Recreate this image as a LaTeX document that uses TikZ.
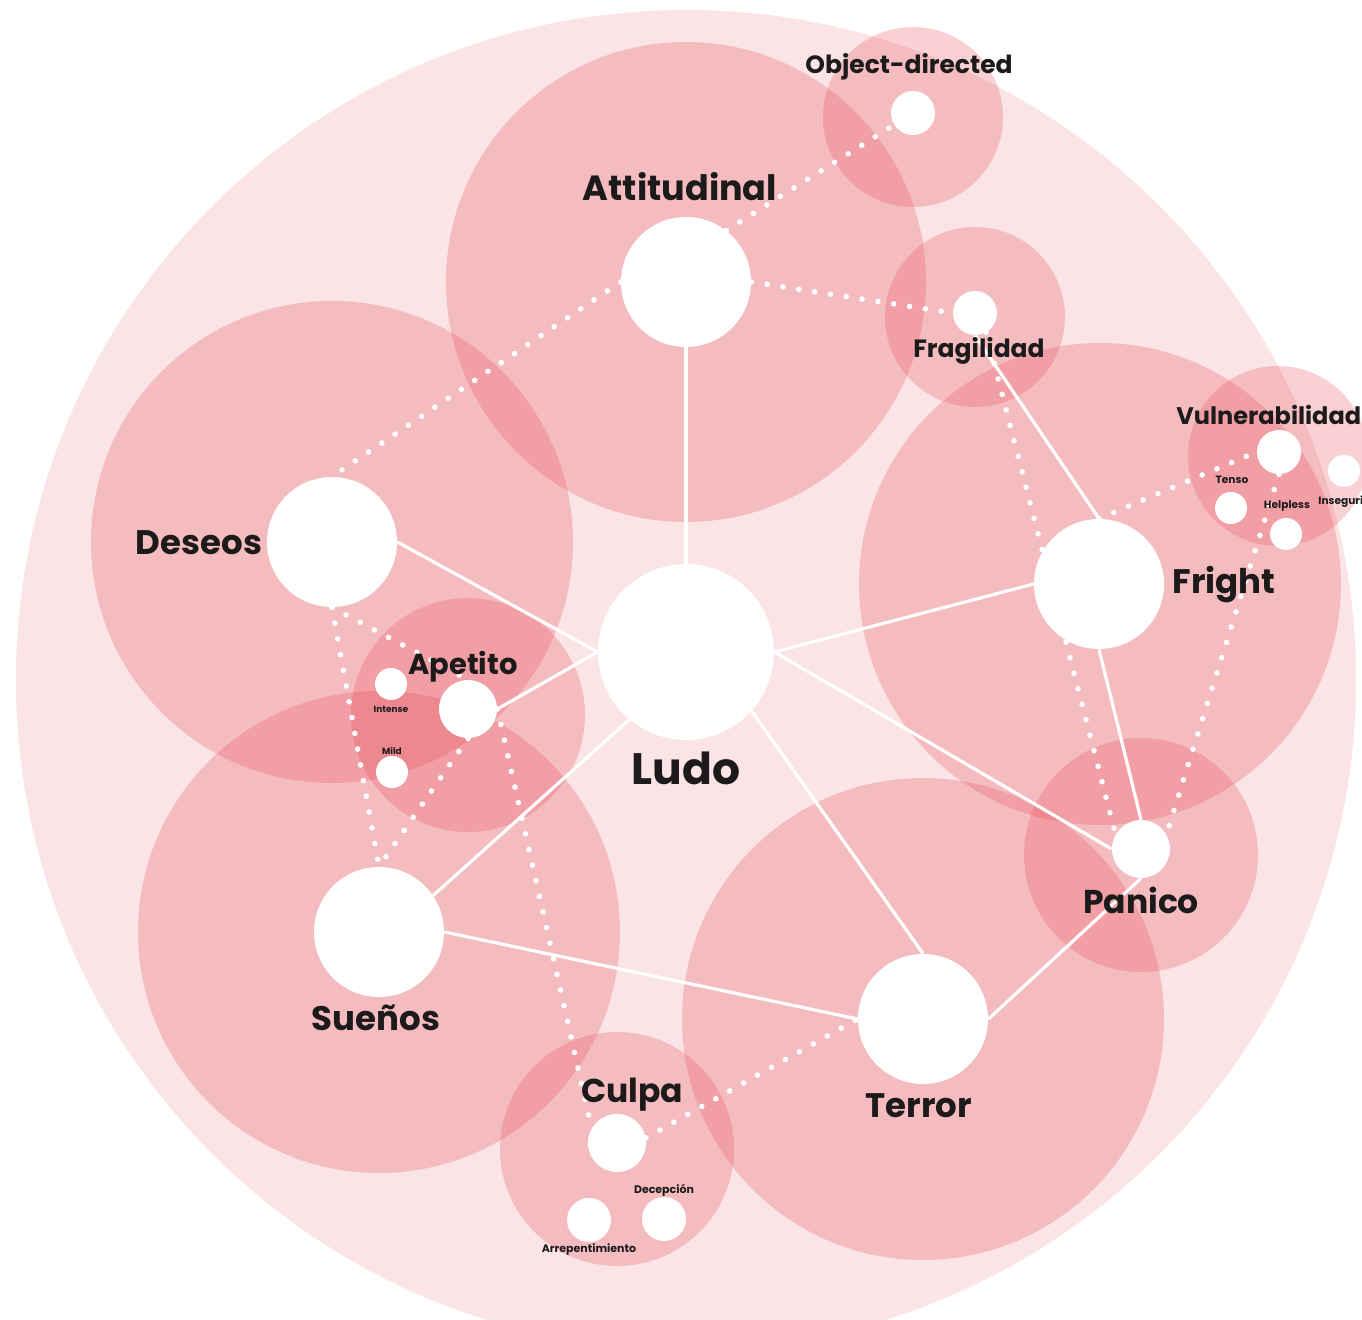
\documentclass[tikz,border=0pt]{standalone}
\usepackage{fontspec}
\setmainfont{Poppins}
\definecolor{clr}{RGB}{232,72,82}
\definecolor{bgpink}{RGB}{250,228,229}
\definecolor{ink}{RGB}{28,26,27}
\pgfdeclarelayer{bg}
\pgfdeclarelayer{lines}
\pgfsetlayers{bg,lines,main}
\tikzset{
  wc/.style={circle, fill=white, inner sep=0pt, minimum size=#1*1pt},
  cl/.style={circle, fill=clr, fill opacity=0.25, draw=none, inner sep=0pt, minimum size=#1*1pt},
  sl/.style={draw=white, line width=1.6pt},
  dl/.style={draw=white, line width=2.8pt, line cap=round, dash pattern=on 0pt off 8pt},
  lab/.style={text=ink, font=\bfseries\fontsize{#1}{#1}\selectfont, inner sep=0pt},
}
\begin{document}
\begin{tikzpicture}[x=0.5pt, y=-0.5pt]
\useasboundingbox (0,0) rectangle (1362,1320);
\begin{pgfonlayer}{bg}
  \node[circle, fill=bgpink, inner sep=0pt, minimum size=670pt] (bgc) at (686,680) {};
  \node[cl=240] (cAtt) at (686,282) {};
  \node[cl=90]  (cObj) at (913,117) {};
  \node[cl=90]  (cFrag) at (975,317) {};
  \node[cl=241] (cFri) at (1100,584) {};
  \node[cl=90]  (cVul) at (1278,456) {};
  \node[cl=117] (cPan) at (1141,855) {};
  \node[cl=241] (cTer) at (923,1019) {};
  \node[cl=117] (cCul) at (617,1149) {};
  \node[cl=241] (cSue) at (379,932) {};
  \node[cl=241] (cDes) at (332,542) {};
  \node[cl=117] (cApe) at (468,715) {};
\end{pgfonlayer}
% white circles (value = radius in px)
\node[wc=88] (ludo) at (686,652) {};
\node[wc=65] (att) at (686,282) {};
\node[wc=65] (des) at (332,542) {};
\node[wc=65] (sue) at (379,932) {};
\node[wc=65] (ter) at (923,1019) {};
\node[wc=65] (fri) at (1099,584) {};
\node[wc=29] (pan) at (1141,849) {};
\node[wc=22] (frag) at (975,313) {};
\node[wc=22] (obj) at (913,113) {};
\node[wc=29] (ape) at (468,709) {};
\node[wc=16] (int) at (391,684) {};
\node[wc=16] (mild) at (392,772) {};
\node[wc=29] (cul) at (617,1143) {};
\node[wc=22] (arr) at (589,1220) {};
\node[wc=22] (dec) at (664,1219) {};
\node[wc=22] (vul) at (1279,452) {};
\node[wc=16] (ten) at (1231,508) {};
\node[wc=16] (hel) at (1286,534) {};
\node[wc=16] (ins) at (1344,471) {};
% connectors
\begin{pgfonlayer}{lines}
  \draw[sl] (att.south) -- (ludo.north);
  \draw[sl] (des.east) -- (ludo.west);
  \draw[sl] (ape.east) -- (ludo.west);
  \draw[sl] (sue.34) -- (ludo.230);
  \draw[sl] (ter.north) -- (ludo.-42);
  \draw[sl] (fri.west) -- (ludo.east);
  \draw[sl] (pan.west) -- (ludo.east);
  \draw[sl] (sue.east) -- (ter.west);
  \draw[sl] (ter.east) -- (pan.south);
  \draw[sl] (fri.south) -- (pan.north);
  \draw[sl] (frag.south) -- (fri.north);
  \draw[dl] (att.west) -- (des.north);
  \draw[dl] (att.52) -- (obj);
  \draw[dl] (att.east) -- (frag.west);
  \draw[dl] (des.south) -- (sue.north);
  \draw[dl] (des.south) -- (ape.north);
  \draw[dl] (ape.south) -- (sue.north);
  \draw[dl] (ape.east) -- (cul.150);
  \draw[dl] (cul.10) -- (ter.west);
  \draw[dl] (frag.-60) -- (pan.150);
  \draw[dl] (fri.north) -- (vul.west);
  \draw[dl] (vul.south) -- (pan.30);
\end{pgfonlayer}
% labels
\node[lab=17.5] (tAtt) at (680,187) {Attitudinal};
\node[lab=17] (tDes) at (199,543) {Deseos};
\node[lab=17] (tSue) at (376,1018) {Sueños};
\node[lab=17] (tTer) at (919,1106) {Terror};
\node[lab=17] (tFri) at (1224,585) {Fright};
\node[lab=22] (tLudo) at (686,768) {Ludo};
\node[lab=16.5] (tPan) at (1141,900) {Panico};
\node[lab=16.5] (tCul) at (632,1095) {Culpa};
\node[lab=14.5] (tApe) at (463,667) {Apetito};
\node[lab=12.5] (tFrag) at (979,351) {Fragilidad};
\node[lab=12.5] (tObj) at (909,67) {Object-directed};
\node[lab=12, anchor=west] (tVul) at (1176,415) {Vulnerabilidad};
\node[lab=4.5] (tInt) at (391,709) {Intense};
\node[lab=4.5] (tMild) at (392,751) {Mild};
\node[lab=5.3] (tTen) at (1232,480) {Tenso};
\node[lab=5.3] (tHel) at (1287,506) {Helpless};
\node[lab=5.3, anchor=west] (tIns) at (1318,502) {Inseguridad};
\node[lab=5.5] (tDec) at (664,1190) {Decepción};
\node[lab=5.5] (tArr) at (589,1250) {Arrepentimiento};
\end{tikzpicture}
\end{document}
